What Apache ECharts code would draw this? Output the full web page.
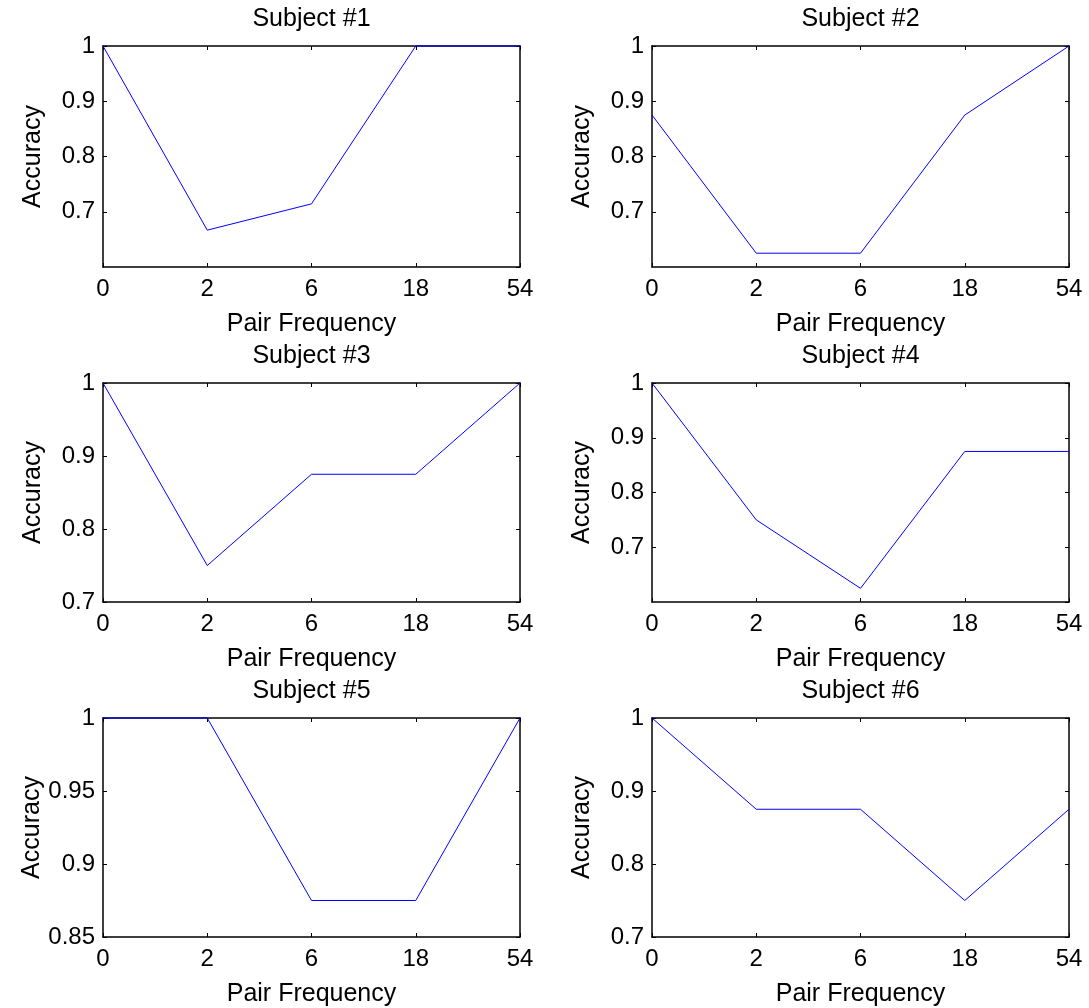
<!DOCTYPE html>
<html><head><meta charset="utf-8">
<script src="https://cdn.jsdelivr.net/npm/echarts@6/dist/echarts.min.js"></script>
<style>html,body{margin:0;padding:0;background:#fff}#c{width:1089px;height:1008px}</style>
</head><body><div id="c"></div>
<script>
// ---- data ----
const categories = ['0', '2', '6', '18', '54'];
const titles = ['Subject #1', 'Subject #2', 'Subject #3', 'Subject #4', 'Subject #5', 'Subject #6'];
const subject1 = [1, 0.6667, 0.7143, 1, 1];
const subject2 = [0.875, 0.625, 0.625, 0.875, 1];
const subject3 = [1, 0.75, 0.875, 0.875, 1];
const subject4 = [1, 0.75, 0.625, 0.875, 0.875];
const subject5 = [1, 1, 0.875, 0.875, 1];
const subject6 = [1, 0.875, 0.875, 0.75, 0.875];
const yMins = [0.6, 0.6, 0.7, 0.6, 0.85, 0.7];
const yMaxs = [1, 1, 1, 1, 1, 1];
const yIntervals = [0.1, 0.1, 0.1, 0.1, 0.05, 0.1];
const showMinTick = [false, false, true, false, true, true];
const xName = 'Pair Frequency';
const yName = 'Accuracy';

// ---- layout ----
const allSeries = [subject1, subject2, subject3, subject4, subject5, subject6];
const colLeft = [103, 652];
const plotW = 417;
const rowTop = [46, 383, 718];
const rowH = [221, 219, 219];
const FONT = "'Liberation Sans', Arial, sans-serif";
const axisLineStyle = { color: '#000', width: 1.5 };

const grids = [], xAxes = [], yAxes = [], series = [], graphics = [];
for (let i = 0; i < 6; i++) {
  const c = i % 2, r = Math.floor(i / 2);
  grids.push({ left: colLeft[c], top: rowTop[r], width: plotW, height: rowH[r], containLabel: false });
  graphics.push({
    type: 'text', x: colLeft[c] + plotW / 2, y: rowTop[r] - 27,
    style: { text: titles[i], font: '25px ' + FONT, fill: '#000', textAlign: 'center', textVerticalAlign: 'middle' }
  });
  xAxes.push({
    gridIndex: i, type: 'category', data: categories, boundaryGap: false, position: 'bottom',
    name: xName, nameLocation: 'middle', nameGap: 45,
    nameTextStyle: { fontFamily: FONT, fontSize: 25, color: '#000' },
    axisLine: { lineStyle: axisLineStyle },
    axisTick: { inside: true, length: 4, lineStyle: { color: '#000' } },
    axisLabel: { fontFamily: FONT, fontSize: 24, color: '#000', margin: 10, interval: 0 },
    splitLine: { show: false }
  });
  xAxes.push({
    gridIndex: i, type: 'category', data: categories, boundaryGap: false, position: 'top',
    axisLine: { lineStyle: axisLineStyle },
    axisTick: { inside: true, length: 4, lineStyle: { color: '#000' } },
    axisLabel: { show: false }, splitLine: { show: false }
  });
  yAxes.push({
    gridIndex: i, type: 'value', min: yMins[i], max: yMaxs[i], interval: yIntervals[i], position: 'left',
    name: yName, nameLocation: 'middle', nameGap: 57,
    nameTextStyle: { fontFamily: FONT, fontSize: 25, color: '#000' },
    axisLine: { show: true, lineStyle: axisLineStyle },
    axisTick: { show: true, inside: true, length: 4, lineStyle: { color: '#000' } },
    axisLabel: { fontFamily: FONT, fontSize: 24, color: '#000', margin: 8, showMinLabel: showMinTick[i],
      formatter: v => String(+v.toFixed(4)) },
    splitLine: { show: false }
  });
  yAxes.push({
    gridIndex: i, type: 'value', min: yMins[i], max: yMaxs[i], interval: yIntervals[i], position: 'right',
    axisLine: { show: true, lineStyle: axisLineStyle },
    axisTick: { show: true, inside: true, length: 4, lineStyle: { color: '#000' } },
    axisLabel: { show: false }, splitLine: { show: false }
  });
  series.push({
    type: 'line', xAxisIndex: 2 * i, yAxisIndex: 2 * i, data: allSeries[i],
    showSymbol: false, clip: false, z: 5,
    lineStyle: { color: '#0000ff', width: 1 }, itemStyle: { color: '#0000ff' }
  });
}

const chart = echarts.init(document.getElementById('c'), null, { renderer: 'canvas' });
chart.setOption({
  backgroundColor: '#fff', animation: false,
  grid: grids, xAxis: xAxes, yAxis: yAxes, series: series, graphic: graphics
});
</script>
</body></html>
